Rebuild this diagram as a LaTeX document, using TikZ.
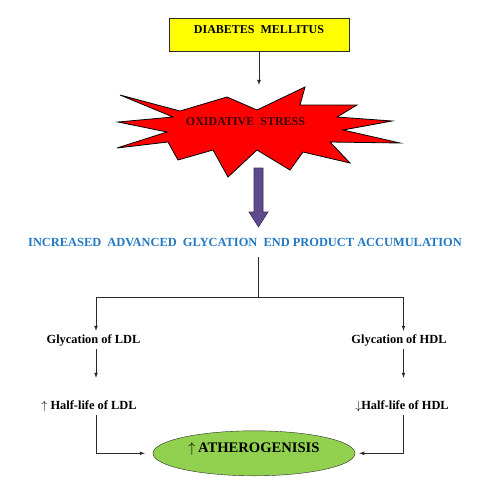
\documentclass[tikz,border=0pt]{standalone}
\usepackage{fontspec}
\setmainfont{Liberation Serif}
\usetikzlibrary{shapes.geometric}
\definecolor{dmyellow}{HTML}{FFFF00}
\definecolor{osred}{HTML}{FF0000}
\definecolor{ostext}{HTML}{3C0505}
\definecolor{agepurple}{HTML}{5F4A8B}
\definecolor{ageblue}{HTML}{2378C4}
\definecolor{athgreen}{HTML}{92D050}
\definecolor{linegray}{HTML}{2A2A2A}
\begin{document}
\begin{tikzpicture}
    [
    x=1pt,y=-1pt,
    dmbox/.style={draw=linegray,fill=dmyellow,minimum width=180pt,minimum height=33pt,inner sep=0pt,
      text height=8pt,text depth=9.5pt,font=\bfseries\fontsize{12}{14}\selectfont},
    txt/.style={inner sep=3pt,text height=9pt,text depth=3pt,font=\bfseries\fontsize{12.4}{14}\selectfont},
    athero/.style={ellipse,draw=linegray,fill=athgreen,minimum width=202pt,minimum height=45pt,inner sep=0pt,
      text height=10pt,text depth=11pt,font=\bfseries\fontsize{14.6}{16}\selectfont},
    arr/.style={-latex,draw=linegray,line width=0.75pt},
    conn/.style={draw=linegray,line width=0.75pt}
    ]
    \useasboundingbox (0,0) rectangle (500,493);
    % top of the chain
    \node (dm) at (259,34.7) [dmbox] {DIABETES\ \ MELLITUS};
    \coordinate (ostop) at (259,85);
    \draw [arr] (dm.south -| ostop) to (ostop);
    % star
    \draw [fill=osred,draw=black,line width=0.8pt,line join=miter]
      (120,95) -- (180,111) -- (227,97) -- (257,110) -- (305,87) -- (300,105) -- (357,105)
      -- (337,117) -- (392,121) -- (343,130) -- (400,143) -- (330,142) -- (350,163)
      -- (303,152) -- (290,170) -- (257,150) -- (228,177) -- (213,150) -- (178,160)
      -- (168,142) -- (117,148) -- (167,132) -- (118,122) -- (173,117) -- cycle;
    \node (os) at (245.5,122) [txt,font=\bfseries\fontsize{12}{14}\selectfont,text=ostext] {OXIDATIVE\ \ STRESS};
    % block arrow
    \draw [fill=agepurple,draw=agepurple!60!black,line width=0.6pt]
      (254,168) -- (263,168) -- (263,212) -- (268,212) -- (258.5,227) -- (249,212) -- (254,212) -- cycle;
    \node (agep) at (245,243) [txt,text=ageblue] {INCREASED\ \ ADVANCED\ \ GLYCATION\ \ END\ PRODUCT\ ACCUMULATION};
    % split
    \coordinate (split) at (258,297);
    \coordinate (splitL) at (96,297);
    \coordinate (splitR) at (403.5,297);
    \draw [conn,shorten <=5pt] (agep.south -| split) to (split);
    \draw [conn] (splitL) to (splitR);
    \node (glyL) at (93.5,340) [txt] {Glycation of LDL};
    \node (glyR) at (399,340) [txt] {Glycation of HDL};
    \node (halfL) at (89,406) [txt] {$\uparrow$\ Half-life of LDL};
    \node (halfR) at (402,406) [txt] {$\downarrow$Half-life of HDL};
    \node (ath) at (254,453.3) [athero] {$\uparrow$\,ATHEROGENISIS};
    \draw [arr] (splitL) to (glyL.north -| splitL);
    \draw [arr] (splitR) to (glyR.north -| splitR);
    \draw [arr,shorten >=19pt] (glyL.south -| splitL) to (halfL.north -| splitL);
    \draw [arr,shorten >=19pt] (glyR.south -| splitR) to (halfR.north -| splitR);
    \draw [arr,shorten >=8pt] (halfL.south -| splitL) |- (ath.west);
    \draw [arr,shorten >=4pt] (halfR.south -| splitR) |- (ath.east);
  \end{tikzpicture}
\end{document}
